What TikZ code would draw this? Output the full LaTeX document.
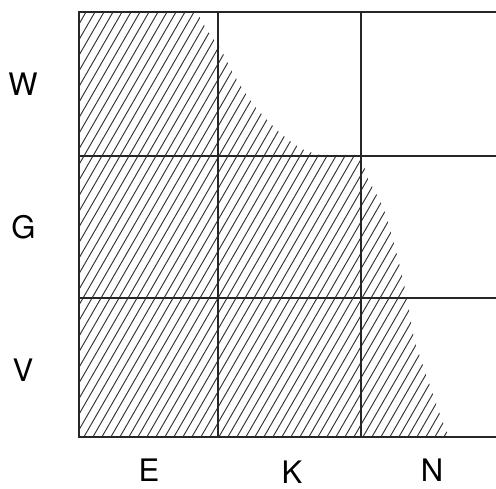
\documentclass[tikz,border=0pt]{standalone}
\usepackage{fontspec}
\setmainfont{TeX Gyre Heros}
\begin{document}
\begin{tikzpicture}[x=1pt,y=-1pt,
  lbl/.style={anchor=base,inner sep=0pt,font=\fontsize{31}{33}\selectfont},
  gridline/.style={line width=1.1pt,black!85},
  borderline/.style={line width=2.6pt,black!85},
  hatchline/.style={line width=0.95pt,black!80}]
\useasboundingbox (0,0) rectangle (496,489);
% hatched region
\begin{scope}
\clip (79,12) -- plot[smooth] coordinates {(197,12) (207,30) (220,48) (233,73) (250,100) (267,120) (285,137) (302,149) (320,155)} -- (361,155)
  -- plot[smooth] coordinates {(361,155) (368,178) (384,210) (397,255) (407,298) (414,338) (427,377) (442,420) (449,437)} -- (79,437) -- cycle;
\foreach \x in {-180,-171,...,470} {
  \draw[hatchline] (\x,442) -- ({\x+248},12);
}
\end{scope}
% grid
\coordinate (tl) at (79,12);
\coordinate (tr) at (496,12);
\coordinate (bl) at (79,437);
\coordinate (br) at (496,437);
\coordinate (v1t) at (218,12);
\coordinate (v1b) at (218,437);
\coordinate (v2t) at (361,12);
\coordinate (v2b) at (361,437);
\coordinate (h1l) at (79,156);
\coordinate (h1r) at (496,156);
\coordinate (h2l) at (79,298);
\coordinate (h2r) at (496,298);
\draw[gridline] (v1t) -- (v1b);
\draw[gridline] (v2t) -- (v2b);
\draw[gridline] (h1l) -- (h1r);
\draw[gridline] (h2l) -- (h2r);
\draw[borderline] (tr) -- (tl) -- (bl) -- (br);
% labels
\node[lbl] (W) at (23,96) {W};
\node[lbl] (G) at (23.5,239) {G};
\node[lbl] (V) at (23,382) {V};
\node[lbl] (E) at (149,481) {E};
\node[lbl] (K) at (292,483) {K};
\node[lbl] (N) at (432,482) {N};
\end{tikzpicture}
\end{document}
